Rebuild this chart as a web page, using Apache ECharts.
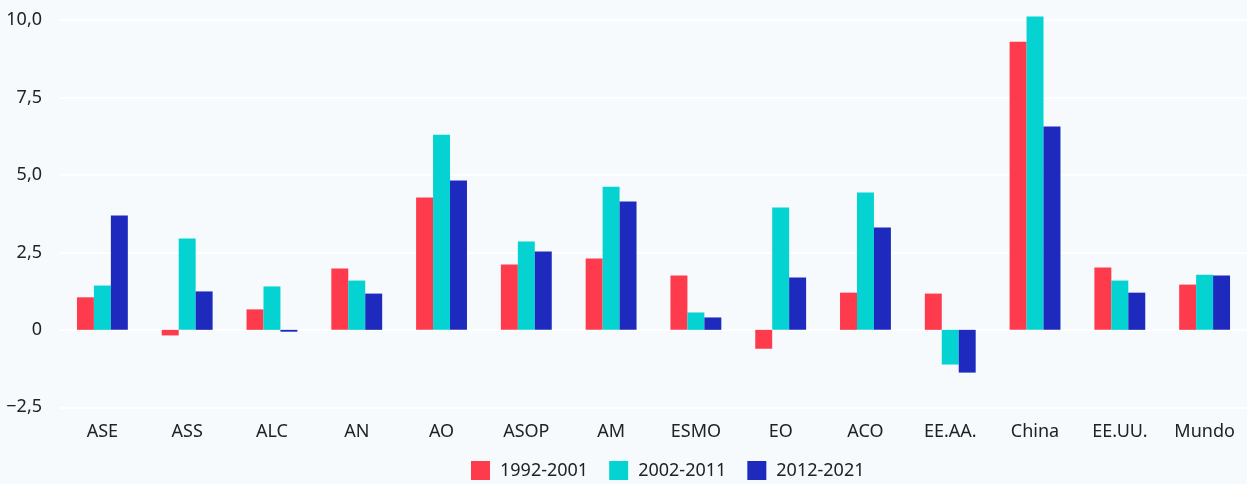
<!DOCTYPE html>
<html><head><meta charset="utf-8">
<script src="https://cdn.jsdelivr.net/npm/echarts@6/dist/echarts.min.js"></script>
<style>html,body{margin:0;padding:0;background:#F6FAFD;}#c{width:1247px;height:484px;}</style>
</head><body><div id="c"></div>
<script>
const categories = ['ASE','ASS','ALC','AN','AO','ASOP','AM','ESMO','EO','ACO','EE.AA.','China','EE.UU.','Mundo'];
const seriesNames = ['1992-2001','2002-2011','2012-2021'];
const s1992 = [1.05,-0.18,0.66,1.98,4.27,2.11,2.30,1.75,-0.61,1.20,1.17,9.30,2.01,1.46];
const s2002 = [1.43,2.95,1.40,1.59,6.30,2.85,4.62,0.56,3.95,4.43,-1.12,10.11,1.59,1.78];
const s2012 = [3.69,1.24,-0.06,1.17,4.82,2.53,4.14,0.40,1.69,3.30,-1.38,6.56,1.20,1.75];
const colors = ['#FD3B4C','#05D3D2','#1E2ABD'];
const chart = echarts.init(document.getElementById('c'));
const font = 'Noto Sans';
function fmt(v){ if(v===0) return '0'; let s=Math.abs(v).toFixed(1).replace('.',','); return (v<0?'\u2212':'')+s; }
chart.setOption({
  backgroundColor:'#F6FAFD',
  animation:false,
  textStyle:{fontFamily:font},
  color:colors,
  legend:{
    left:471, top:461, padding:0, itemWidth:19, itemHeight:19, itemGap:21,
    icon:'rect',
    textStyle:{fontFamily:font,fontSize:18,color:'#222',padding:[0,0,0,5]},
    data:seriesNames
  },
  grid:{left:60,width:1190,top:20,bottom:76.7},
  xAxis:{
    type:'category', data:categories,
    axisLine:{show:false}, axisTick:{show:false},
    axisLabel:{fontFamily:font,fontSize:18,color:'#222',margin:16}
  },
  yAxis:{
    type:'value', min:-2.5, max:10, interval:2.5,
    axisLine:{show:false}, axisTick:{show:false},
    axisLabel:{fontFamily:font,fontSize:18,color:'#222',margin:18,formatter:fmt},
    splitLine:{lineStyle:{color:'#FFFFFF',width:2}}
  },
  series:[
    {name:seriesNames[0],type:'bar',data:s1992,barGap:'0%',barCategoryGap:'40%',clip:false},
    {name:seriesNames[1],type:'bar',data:s2002,barGap:'0%',barCategoryGap:'40%',clip:false},
    {name:seriesNames[2],type:'bar',data:s2012,barGap:'0%',barCategoryGap:'40%',clip:false}
  ]
});
</script></body></html>
